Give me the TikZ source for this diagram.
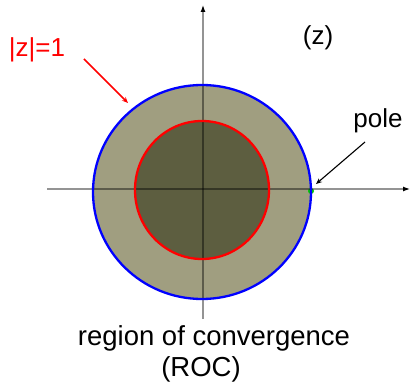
\documentclass[tikz,border=0pt]{standalone}
\usepackage{fontspec}
\setmainfont{Liberation Sans}
\usetikzlibrary{arrows.meta}
\definecolor{ringfill}{RGB}{160,158,128}
\definecolor{diskfill}{RGB}{93,94,64}
\definecolor{polegreen}{RGB}{0,200,0}
\tikzset{
  axisline/.style={line width=1.8pt, draw=black, draw opacity=0.42},
  axistip/.style={line width=1.2pt, draw=black, -{Latex[length=7pt,width=5pt]}},
  txt/.style={font=\fontsize{26}{28}\selectfont, inner sep=0pt, anchor=base},
  ptr/.style={line width=1.1pt, -{Stealth[length=6pt,width=5pt]}}
}
\begin{document}
\begin{tikzpicture}[x=1pt,y=-1pt]
\useasboundingbox (0,0) rectangle (410,385);
% regions
\fill[ringfill] (202,192) ellipse [x radius=109, y radius=107];
\fill[diskfill] (202,190) ellipse [x radius=67, y radius=69];
% pole marker
\node[circle, fill=polegreen, inner sep=0pt, minimum size=6pt] (pole) at (311,191) {};
% axes
\coordinate (xs) at (47,189);
\coordinate (xm) at (404,189);
\coordinate (xe) at (410,189);
\coordinate (ys) at (203,319);
\coordinate (ym) at (203,12);
\coordinate (ye) at (203,5);
\draw[axisline] (xs) -- (xm);
\draw[axisline] (ys) -- (ym);
\draw[axistip] (xm) -- (xe);
\draw[axistip] (ym) -- (ye);
% circles
\draw[blue, line width=2.3pt] (202,192) ellipse [x radius=109, y radius=107];
\draw[red, line width=2.3pt] (202,190) ellipse [x radius=67, y radius=69];
% labels
\node[txt, red] (unit) at (37,57) {|z|=1};
\node[txt] (zl) at (318,45) {(z)};
\node[txt] (pl) at (378,128) {pole};
\node[txt, font=\fontsize{27.5}{29}\selectfont] (roc1) at (214,345) {region of convergence};
\node[txt, font=\fontsize{27.5}{29}\selectfont] (roc2) at (201,376) {(ROC)};
% pointers
\coordinate (ua) at (84,59);
\coordinate (ub) at (128,103);
\draw[ptr, red, line width=1.6pt] (ua) -- (ub);
\coordinate (pa) at (365,142);
\coordinate (pb) at (316,184);
\draw[ptr, black] (pa) -- (pb);
\end{tikzpicture}
\end{document}
